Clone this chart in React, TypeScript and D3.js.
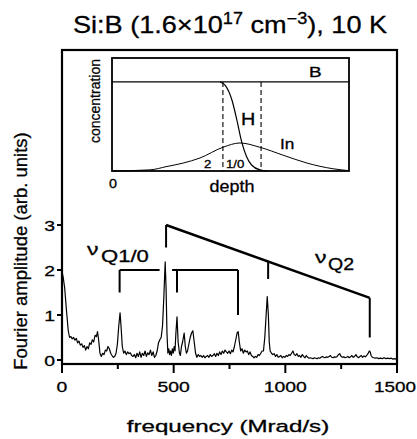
import React from "react";
import * as d3 from "d3";

// ---- spectrum data (frequency in Mrad/s, Fourier amplitude in arb. units)
const freq: number[] = [
  0, 5, 12, 20, 28, 34, 40, 46, 52, 58, 64, 70, 76, 82, 88, 94, 100, 106, 112, 118,
  124, 130, 136, 142, 148, 154, 159, 164, 170, 176, 182, 188, 194, 200, 206, 212, 218, 224, 230, 236,
  242, 248, 254, 260, 265, 270, 276, 282, 288, 294, 300, 306, 312, 318, 324, 330, 336, 342, 348, 354,
  360, 366, 372, 378, 384, 390, 396, 402, 408, 414, 420, 426, 432, 438, 444, 450, 456, 462, 466, 470,
  474, 478, 482, 486, 490, 494, 498, 502, 506, 510, 515, 520, 526, 530, 535, 540, 547, 552, 557, 562,
  568, 574, 580, 586, 592, 598, 604, 610, 616, 622, 628, 634, 640, 646, 652, 658, 664, 670, 676, 682,
  688, 694, 700, 706, 712, 718, 724, 730, 736, 742, 748, 754, 760, 766, 772, 778, 784, 789, 794, 800,
  806, 812, 818, 824, 830, 836, 842, 848, 854, 860, 866, 872, 878, 884, 890, 896, 902, 908, 914, 919,
  924, 928, 932, 938, 944, 950, 956, 962, 968, 974, 980, 986, 992, 998, 1004, 1010, 1016, 1022, 1028, 1034,
  1040, 1046, 1052, 1058, 1064, 1070, 1076, 1082, 1088, 1094, 1100, 1106, 1112, 1118, 1124, 1130, 1136, 1142, 1148, 1154,
  1160, 1166, 1172, 1178, 1184, 1190, 1196, 1202, 1208, 1214, 1220, 1226, 1232, 1238, 1244, 1250, 1256, 1262, 1268, 1274,
  1280, 1286, 1292, 1298, 1304, 1310, 1316, 1322, 1328, 1334, 1340, 1346, 1352, 1358, 1364, 1370, 1376, 1380, 1384, 1390,
  1396, 1402, 1410, 1418, 1426, 1434, 1442, 1450, 1458, 1466, 1474, 1482, 1490, 1496,
];
const amp: number[] = [
  1.95, 1.85, 1.6, 1.1, 0.65, 0.5, 0.52, 0.47, 0.5, 0.44, 0.48, 0.38, 0.42, 0.33, 0.36, 0.28, 0.32, 0.22, 0.3, 0.25,
  0.38, 0.35, 0.45, 0.4, 0.55, 0.52, 0.63, 0.45, 0.15, 0.08, 0.15, 0.12, 0.22, 0.2, 0.3, 0.25, 0.15, 0.1, 0.06, 0.08,
  0.15, 0.35, 0.75, 1.05, 0.7, 0.3, 0.15, 0.2, 0.12, 0.18, 0.14, 0.16, 0.1, 0.08, 0.12, 0.05, 0.15, 0.08, 0.18, 0.06,
  0.15, 0.1, 0.2, 0.08, 0.16, 0.12, 0.22, 0.1, 0.18, 0.06, 0.1, 0.2, 0.38, 0.45, 0.5, 0.75, 1.4, 2.18, 1.6, 0.6,
  0.15, 0.25, 0.12, 0.2, 0.1, 0.25, 0.15, 0.3, 0.2, 0.6, 0.96, 0.4, 0.15, 0.1, 0.3, 0.4, 0.6, 0.3, 0.15, 0.2,
  0.35, 0.5, 0.6, 0.65, 0.4, 0.15, 0.06, 0.12, 0.08, 0.1, 0.06, 0.1, 0.05, 0.08, 0.1, 0.06, 0.12, 0.08, 0.1, 0.14,
  0.08, 0.15, 0.1, 0.18, 0.12, 0.2, 0.15, 0.22, 0.18, 0.15, 0.2, 0.14, 0.22, 0.18, 0.3, 0.45, 0.6, 0.63, 0.4, 0.2,
  0.25, 0.15, 0.22, 0.18, 0.2, 0.12, 0.18, 0.1, 0.08, 0.05, 0.08, 0.06, 0.12, 0.1, 0.15, 0.2, 0.2, 0.5, 1.0, 1.41,
  1.0, 0.4, 0.2, 0.15, 0.12, 0.14, 0.08, 0.12, 0.06, 0.08, 0.1, 0.05, 0.08, 0.06, 0.1, 0.08, 0.12, 0.1, 0.15, 0.2,
  0.12, 0.1, 0.14, 0.08, 0.1, 0.06, 0.12, 0.08, 0.05, 0.1, 0.06, 0.04, 0.05, 0.04, 0.03, 0.05, 0.04, 0.03, 0.05, 0.04,
  0.06, 0.08, 0.06, 0.05, 0.07, 0.06, 0.08, 0.1, 0.06, 0.05, 0.07, 0.06, 0.08, 0.12, 0.14, 0.08, 0.06, 0.07, 0.05, 0.06,
  0.08, 0.05, 0.07, 0.1, 0.06, 0.08, 0.12, 0.07, 0.05, 0.08, 0.1, 0.06, 0.09, 0.07, 0.1, 0.14, 0.2, 0.18, 0.1, 0.06,
  0.05, 0.04, 0.05, 0.03, 0.04, 0.03, 0.05, 0.03, 0.04, 0.03, 0.04, 0.02, 0.03, 0.02,
];

const xTicksMajor = [0, 500, 1000, 1500];
const xTicksMinor = [250, 750, 1250];
const yTicks = [0, 1, 2, 3];

// ---- assignment brackets
const q10Level = 2.0;
const q10Segments: [number, number][] = [[258, 437], [493, 788]];
const q10Ticks = [
  { f: 258, to: 1.5 },
  { f: 515, to: 1.5 },
  { f: 788, to: 1.0 },
];
const q2Start: [number, number] = [466, 3.0];
const q2End: [number, number] = [1378, 1.38];
const q2Ticks = [
  { f: 466, to: 2.5 },
  { f: 923, to: 1.8 },
  { f: 1378, to: 0.5 },
];

// ---- inset schematic (depth 0..1, concentration 0..1)
const bLevel = 0.788;
const dashDepths = [0.468, 0.629];
const inDepth = [0, 0.16, 0.232, 0.3, 0.371, 0.468, 0.54, 0.624, 0.722, 0.823, 0.932, 1.0];
const inConc = [0, 0.01, 0.04, 0.07, 0.115, 0.21, 0.248, 0.21, 0.14, 0.07, 0.02, 0.003];
const hDepth = [0.456, 0.477, 0.506, 0.527, 0.547, 0.568, 0.589, 0.624, 0.66];
const hConc = [0.788, 0.76, 0.628, 0.45, 0.26, 0.126, 0.053, 0.01, 0.0];

const FONT = "'Liberation Sans', Arial, Helvetica, sans-serif";

type TP = { x: number; y: number; size: number; sx?: number; anchor?: "start" | "middle" | "end"; children: React.ReactNode };
function T({ x, y, size, sx = 1, anchor = "start", children }: TP) {
  return (
    <text transform={`translate(${x},${y}) scale(${sx},1)`} fontSize={size} textAnchor={anchor} fill="#000" stroke="#000" strokeWidth={0.3}>
      {children}
    </text>
  );
}

export default function App() {
  const W = 417, H = 439;
  const x = d3.scaleLinear().domain([0, 1500]).range([62, 397]);
  const y = d3.scaleLinear().domain([0, 3]).range([360, 225]);
  const yTop = y.invert(50);
  const yBot = y.invert(364);

  const spec = freq.map((f, i) => [f, amp[i]] as [number, number]);
  const line = d3.line<[number, number]>().x(d => x(d[0])).y(d => y(d[1]));

  const ix = d3.scaleLinear().domain([0, 1]).range([112, 349]);
  const iy = d3.scaleLinear().domain([0, 1]).range([171, 58]);
  const iline = d3.line<[number, number]>().x(d => ix(d[0])).y(d => iy(d[1])).curve(d3.curveMonotoneX);
  const inPts = inDepth.map((d, i) => [d, inConc[i]] as [number, number]);
  const hPts = hDepth.map((d, i) => [d, hConc[i]] as [number, number]);

  const q2At = (f: number) => q2Start[1] + (f - q2Start[0]) / (q2End[0] - q2Start[0]) * (q2End[1] - q2Start[1]);
  const lastTick = xTicksMajor[xTicksMajor.length - 1];

  return (
    <svg width={W} height={H} style={{ position: "absolute", left: 0, top: 0, background: "#fff" }} fontFamily={FONT}>
      <rect x={0} y={0} width={W} height={H} fill="#fff" />
      {/* title */}
      <T x={230} y={33} size={24} sx={1.13} anchor="middle">
        Si:B (1.6×10<tspan fontSize={16} dy={-9}>17</tspan>
        <tspan dy={9}> cm</tspan><tspan fontSize={16} dy={-9}>−3</tspan>
        <tspan dy={9}>), 10 K</tspan>
      </T>

      {/* frame */}
      <rect x={x(0)} y={y(yTop)} width={x(1500) - x(0)} height={y(yBot) - y(yTop)} fill="none" stroke="#000" strokeWidth={2.2} />

      {/* x ticks */}
      {xTicksMajor.map(t => (
        <g key={"xm" + t}>
          <line x1={x(t)} x2={x(t)} y1={y(yBot)} y2={y(yBot) + 9} stroke="#000" strokeWidth={2} />
          {t === lastTick ? (
            <T x={416} y={392} size={15.5} sx={1.22} anchor="end">{t}</T>
          ) : (
            <T x={x(t)} y={392} size={15.5} sx={1.25} anchor="middle">{t}</T>
          )}
        </g>
      ))}
      {xTicksMinor.map(t => (
        <line key={"xn" + t} x1={x(t)} x2={x(t)} y1={y(yBot)} y2={y(yBot) + 5} stroke="#000" strokeWidth={2} />
      ))}
      {/* y ticks */}
      {yTicks.map(t => (
        <g key={"y" + t}>
          <line x1={x(0) - 5} x2={x(0)} y1={y(t)} y2={y(t)} stroke="#000" strokeWidth={2} />
          <T x={55} y={y(t) + 5.5} size={15.5} sx={1.25} anchor="end">{t}</T>
        </g>
      ))}

      {/* axis titles */}
      <text x={27} y={251} fontSize={18.5} textAnchor="middle" transform="rotate(-90 27 251)" stroke="#000" strokeWidth={0.3}>Fourier amplitude (arb. units)</text>
      <T x={228} y={432} size={17} sx={1.42} anchor="middle">frequency (Mrad/s)</T>

      {/* spectrum */}
      <path d={line(spec) || ""} fill="none" stroke="#000" strokeWidth={1.2} strokeLinejoin="round" />

      {/* Q1/0 brackets */}
      {q10Segments.map((s, i) => (
        <line key={"qs" + i} x1={x(s[0])} x2={x(s[1])} y1={y(q10Level)} y2={y(q10Level)} stroke="#000" strokeWidth={2} />
      ))}
      {q10Ticks.map((t, i) => (
        <line key={"qt" + i} x1={x(t.f)} x2={x(t.f)} y1={y(q10Level)} y2={y(t.to)} stroke="#000" strokeWidth={2} />
      ))}
      {/* Q2 bracket */}
      <line x1={x(q2Start[0])} y1={y(q2Start[1])} x2={x(q2End[0])} y2={y(q2End[1])} stroke="#000" strokeWidth={2.4} />
      {q2Ticks.map((t, i) => (
        <line key={"q2" + i} x1={x(t.f)} x2={x(t.f)} y1={y(q2At(t.f))} y2={y(t.to)} stroke="#000" strokeWidth={2} />
      ))}

      {/* labels */}
      <T x={87} y={255} size={17} sx={1.35}>ν</T>
      <T x={101} y={262} size={17} sx={1.3}>Q1/0</T>
      <T x={315} y={263} size={17} sx={1.35}>ν</T>
      <T x={328} y={270} size={17} sx={1.15}>Q2</T>

      {/* inset */}
      <rect x={ix(0)} y={iy(1)} width={ix(1) - ix(0)} height={iy(0) - iy(1)} fill="#fff" stroke="#000" strokeWidth={1.8} />
      <line x1={ix(0)} x2={ix(1)} y1={iy(bLevel)} y2={iy(bLevel)} stroke="#000" strokeWidth={1.3} />
      {dashDepths.map((d, i) => (
        <line key={"dd" + i} x1={ix(d)} x2={ix(d)} y1={iy(bLevel)} y2={iy(0)} stroke="#000" strokeWidth={1.1} strokeDasharray="5,3" />
      ))}
      <path d={iline(inPts) || ""} fill="none" stroke="#000" strokeWidth={1} />
      <path d={iline(hPts) || ""} fill="none" stroke="#000" strokeWidth={1.2} />
      <T x={309} y={77} size={14} sx={1.35}>B</T>
      <T x={241} y={125} size={16.5} sx={1.2}>H</T>
      <T x={280} y={149} size={15} sx={1.15}>In</T>
      <T x={204} y={168} size={11} sx={1.2}>2</T>
      <T x={226} y={168} size={11} sx={1.2}>1/0</T>
      <T x={109} y={188} size={12} sx={1.2}>0</T>
      <T x={232} y={192} size={16} sx={1.12} anchor="middle">depth</T>
      <text x={100} y={101} fontSize={14} textAnchor="middle" transform="rotate(-90 100 101)" stroke="#000" strokeWidth={0.25}>concentration</text>
    </svg>
  );
}
